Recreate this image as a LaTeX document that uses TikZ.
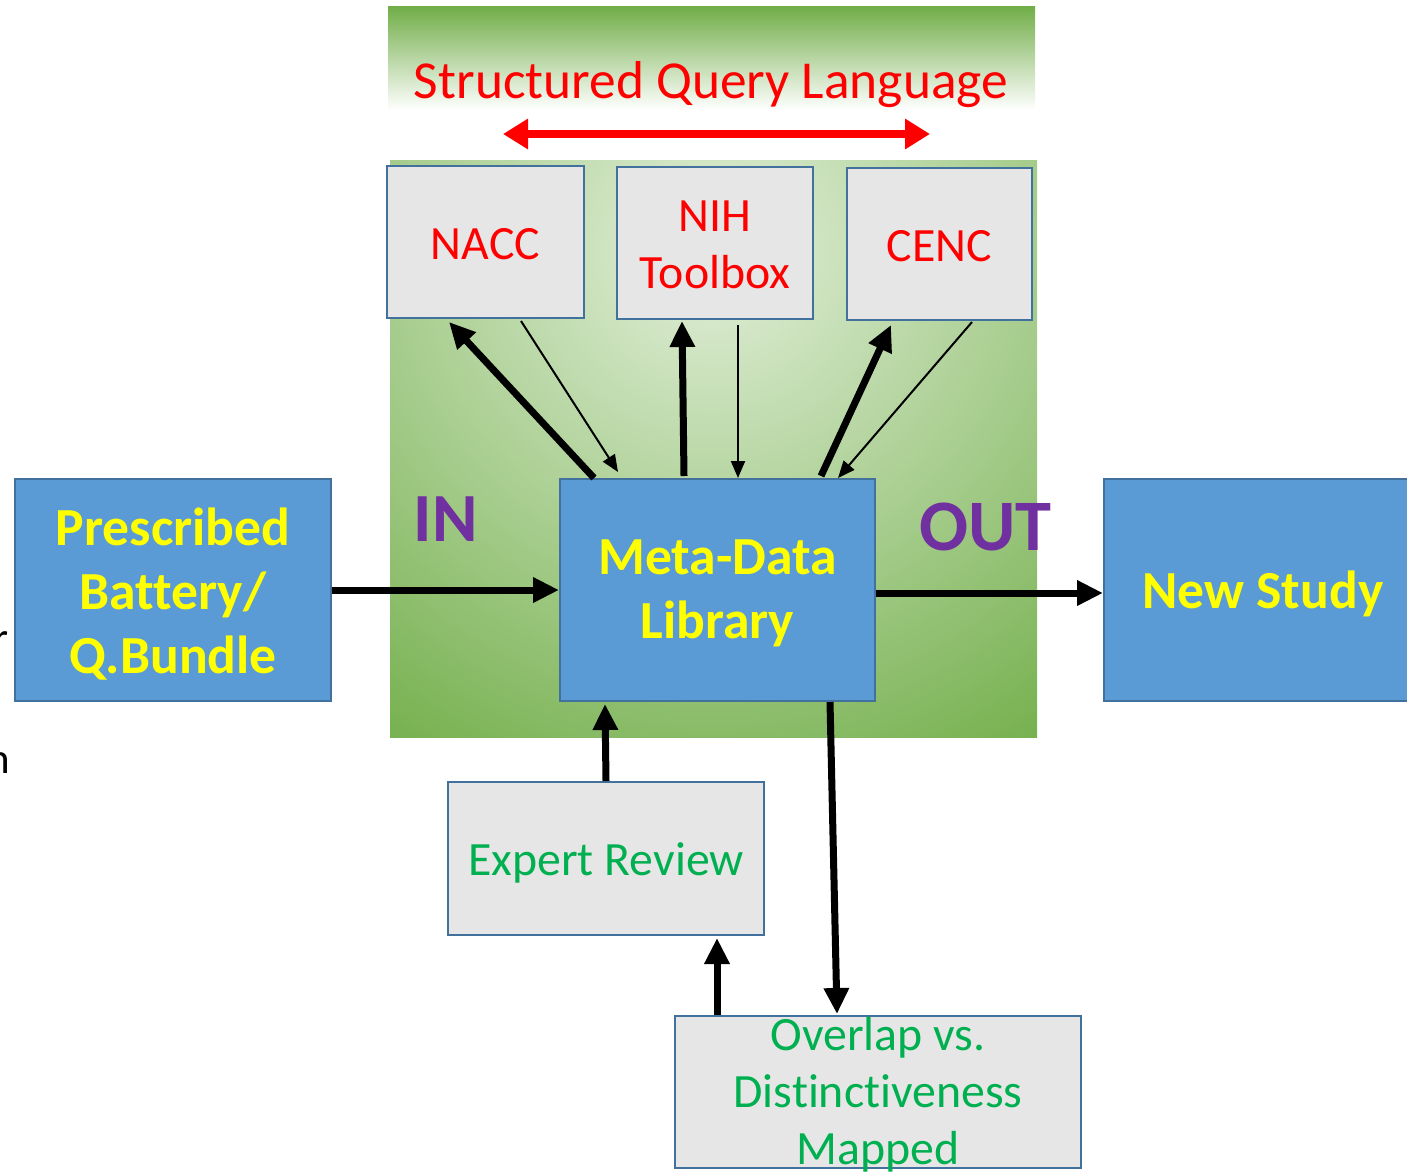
\documentclass[tikz,border=0pt]{standalone}
\usepackage{fontspec}
\setmainfont[Ligatures=NoCommon]{Carlito}
\usetikzlibrary{arrows.meta,calc}
\definecolor{grn}{HTML}{70AD47}
\definecolor{lgrn}{HTML}{E2EFDA}
\definecolor{bord}{HTML}{41719C}
\definecolor{grayf}{HTML}{E7E6E6}
\definecolor{bluef}{HTML}{5B9BD5}
\definecolor{sqlred}{HTML}{FF0000}
\definecolor{ylw}{HTML}{FFFF00}
\definecolor{purp}{HTML}{7030A0}
\definecolor{tgrn}{HTML}{00B050}
\tikzset{
  box/.style={draw=bord, line width=2pt, inner sep=0pt},
  graybox/.style={box, fill=grayf},
  bluebox/.style={box, fill=bluef},
  rtxt/.style={text=sqlred, font=\fontsize{47.8}{57}\selectfont, align=center, inner sep=0pt},
  gtxt/.style={text=tgrn, font=\fontsize{47.8}{57}\selectfont, align=center, inner sep=0pt},
  ytxt/.style={text=ylw, font=\bfseries\fontsize{53.6}{64}\selectfont, align=center, inner sep=0pt},
  bigarrow/.style={-{Triangle[length=26pt,width=24pt]}, line width=7pt},
  smallarrow/.style={-{Triangle[length=17pt,width=14pt]}, line width=2pt},
  inout/.style={text=purp, anchor=base, inner sep=0pt},
  frag/.style={anchor=base west, inner sep=0pt, font=\fontsize{43}{50}\selectfont}
}
\begin{document}
\begin{tikzpicture}[x=1pt,y=-1pt]
\useasboundingbox (0,0) rectangle (1407,1171);
% backgrounds
\shade[top color=grn, bottom color=white] (388,6) rectangle (1035,110);
\begin{scope}
  \clip (390,160) rectangle (1037,737);
  \shade[inner color=lgrn, outer color=grn] (712,250) circle (620);
\end{scope}
% title
\node[text=sqlred, anchor=base, inner sep=0pt, font=\fontsize{53.4}{60}\selectfont] (sql) at (711,98) {Structured Query Language};
\coordinate (sqlL) at (503,134);
\coordinate (sqlR) at (930,134);
\draw[{Triangle[length=25pt,width=29pt]}-{Triangle[length=25pt,width=29pt]}, line width=8pt, sqlred] (sqlL) -- (sqlR);
% boxes
\node[graybox, minimum width=197pt, minimum height=152pt] (nacc) at (485.5,242) {};
\node[rtxt] (nacct) at ([yshift=-2pt]nacc.center) {NACC};
\node[graybox, minimum width=196pt, minimum height=152pt] (nih) at (715,243) {};
\node[rtxt] (niht) at ([yshift=-2pt]nih.center) {NIH\\Toolbox};
\node[graybox, minimum width=185pt, minimum height=152pt] (cenc) at (939.5,244) {};
\node[rtxt] (cenct) at ([yshift=-2pt]cenc.center) {CENC};
\node[bluebox, minimum width=315pt, minimum height=222pt] (meta) at (717.5,590) {};
\node[ytxt] (metat) at ([yshift=-3pt]meta.center) {Meta-Data\\Library};
\node[bluebox, minimum width=316pt, minimum height=222pt] (pres) at (173,590) {};
\node[ytxt] (prest) at ([yshift=-4pt]pres.center) {Prescribed\\Battery/\\Q.Bundle};
\node[bluebox, minimum width=316pt, minimum height=222pt] (new) at (1262,590) {};
\node[ytxt] (newt) at ([yshift=-4pt,xshift=1pt]new.center) {New Study};
\node[graybox, minimum width=316pt, minimum height=153pt] (exp) at (606,858.5) {};
\node[gtxt] (expt) at ([yshift=-4pt]exp.center) {Expert Review};
\node[graybox, minimum width=406pt, minimum height=152pt] (ov) at (878,1092) {};
\node[gtxt] (ovt) at ([yshift=-3pt]ov.center) {Overlap vs.\\Distinctiveness\\Mapped};
% labels
\node[inout, font=\bfseries\fontsize{69}{80}\selectfont] (in) at (445.5,541) {IN};
\node[inout, font=\bfseries\fontsize{72.5}{84}\selectfont] (out) at (985.5,550) {OUT};
% left fragments
\node[frag] (fr1) at (-7,652) {r};
\node[frag] (fr2) at (-13,773) {n};
% arrows
\draw[bigarrow] ($(meta.north west)+(35,0)$) -- ($(nacc.south west)+(63,3)$);
\draw[smallarrow] ($(nacc.south west)+(135,2)$) -- ($(meta.north west)+(59,-6)$);
\draw[bigarrow] ($(meta.north west)+(125,-2)$) -- ($(nih.south west)+(66,1)$);
\draw[smallarrow] ($(nih.south west)+(122,5)$) -- ($(meta.north west)+(179,0)$);
\draw[bigarrow] ($(meta.north west)+(262,-2)$) -- ($(cenc.south west)+(45,4)$);
\draw[smallarrow] ($(cenc.south west)+(126,1)$) -- ($(meta.north west)+(279,0)$);
\draw[bigarrow] (pres.east) -- (meta.west);
\draw[bigarrow] ($(meta.east)+(0,3)$) -- ($(new.west)+(0,3)$);
\draw[bigarrow] (exp.north) -- ($(meta.south west)+(46,2)$);
\draw[bigarrow] ($(meta.south west)+(271,0)$) -- ($(ov.north west)+(163,-1)$);
\draw[bigarrow] ($(ov.north west)+(43,0)$) -- ($(exp.south west)+(270,2)$);
\end{tikzpicture}
\end{document}
